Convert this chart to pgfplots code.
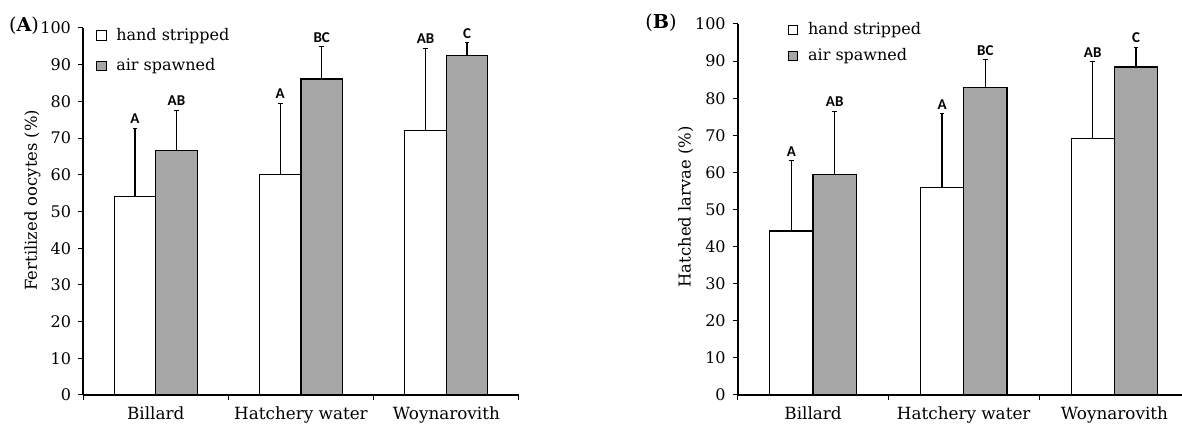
\documentclass[border=0pt]{standalone}
\usepackage{fontspec}
\setmainfont{DejaVu Serif}
\newfontfamily\lettfont{Carlito}
\usepackage{pgfplots}
\pgfplotsset{compat=1.18}
\usepackage{pgfplotstable}

\pgfplotstableread{
x val err lab
1 54.0 18.7 A
2 60.2 19.3 A
3 72.0 22.5 AB
}\Ahand
\pgfplotstableread{
x val err lab
1 66.6 11.0 AB
2 86.1 8.8 BC
3 92.4 3.6 C
}\Aair
\pgfplotstableread{
x val err lab
1 44.2 19.0 A
2 56.0 19.8 A
3 69.2 20.6 AB
}\Bhand
\pgfplotstableread{
x val err lab
1 59.5 17.0 AB
2 83.0 7.4 BC
3 88.4 5.3 C
}\Bair

\definecolor{bargray}{RGB}{166,166,166}

\pgfplotsset{
  sqlegend/.style={legend image code/.code={\draw[##1,draw=black,line width=0.5pt] (0pt,-2.3pt) rectangle (4.6pt,2.3pt); \path (7.4pt,0pt);}},
  panel/.style={
    scale only axis, anchor=south west, ybar,
    xmin=0.5, xmax=3.5, ymin=0, ymax=100,
    axis x line*=bottom, axis y line*=left,
    axis line style={line width=0.9pt,-},
    xtick={1,2,3}, xticklabels={Billard, Hatchery water, Woynarovith},
    major x tick style={draw=none},
    minor xtick={0.5,1.5,2.5,3.5},
    minor x tick style={line width=0.5pt,black},
    ytick={0,10,...,100},
    major y tick style={line width=0.5pt,black},
    tick align=outside, major tick length=2.5pt, minor tick length=2.5pt,
    x tick label style={font=\fontsize{8.4}{10}\selectfont},
    y tick label style={font=\fontsize{8}{9}\selectfont},
    /pgf/number format/assume math mode=true,
    ylabel style={font=\fontsize{8.2}{10}\selectfont},
    legend style={draw=none, fill=none, anchor=north west, inner sep=0pt,
      font=\fontsize{8}{10}\selectfont},
    legend cell align=left,
  },
  barA/.style={draw=black, line width=0.55pt, sqlegend},
  errs/.style={error bars/.cd, y dir=plus, y explicit,
    error bar style={line width=0.6pt, black, solid},
    error mark options={line width=0.6pt, mark size=1.2pt, black, rotate=90}},
  letters/.style={draw=none, fill=none, forget plot,
    nodes near coords, point meta=explicit symbolic,
    nodes near coords style={anchor=south, inner sep=0pt, yshift=2pt, black,
      font=\lettfont\bfseries\fontsize{7.5}{9}\selectfont}},
}

\begin{document}
\begin{tikzpicture}
\path[use as bounding box] (0,0) rectangle (591pt,213pt);

% Panel A
\begin{axis}[panel, bar width=20.75pt, at={(41.5pt,15.5pt)}, width=218pt, height=183.5pt,
  ylabel={Fertilized oocytes (\%)},
  ylabel style={at={(axis description cs:-0.116,0.531)}, anchor=center, rotate=0},
  legend style={at={(axis description cs:0.03,1.012)}, row sep=3.8pt},
]
\addplot[barA, fill=white, bar shift=-10.375pt, errs] table[x=x, y=val, y error=err] {\Ahand};
\addlegendentry{hand stripped}
\addplot[barA, fill=bargray, bar shift=10.375pt, errs] table[x=x, y=val, y error=err] {\Aair};
\addlegendentry{air spawned}
\addplot[letters, bar shift=-10.375pt] table[x=x, y expr=\thisrow{val}+\thisrow{err}, meta=lab] {\Ahand};
\addplot[letters, bar shift=10.375pt] table[x=x, y expr=\thisrow{val}+\thisrow{err}, meta=lab] {\Aair};
\end{axis}

% Panel B
\begin{axis}[panel, bar width=21.65pt, at={(368.85pt,15.5pt)}, width=226pt, height=185.5pt,
  ylabel={Hatched larvae (\%)},
  ylabel style={at={(axis description cs:-0.115,0.507)}, anchor=center, rotate=0},
  legend style={at={(axis description cs:0.111,1.016)}, row sep=1.6pt},
]
\addplot[barA, fill=white, bar shift=-10.825pt, errs] table[x=x, y=val, y error=err] {\Bhand};
\addlegendentry{hand stripped}
\addplot[barA, fill=bargray, bar shift=10.825pt, errs] table[x=x, y=val, y error=err] {\Bair};
\addlegendentry{air spawned}
\addplot[letters, bar shift=-10.825pt] table[x=x, y expr=\thisrow{val}+\thisrow{err}, meta=lab] {\Bhand};
\addplot[letters, bar shift=10.825pt] table[x=x, y expr=\thisrow{val}+\thisrow{err}, meta=lab] {\Bair};
\end{axis}

\node[font=\fontsize{9.6}{11}\selectfont] at (12pt,200pt) {({\bfseries A})};
\node[font=\fontsize{9.6}{11}\selectfont] at (330.5pt,201.5pt) {({\bfseries B})};
\end{tikzpicture}
\end{document}
